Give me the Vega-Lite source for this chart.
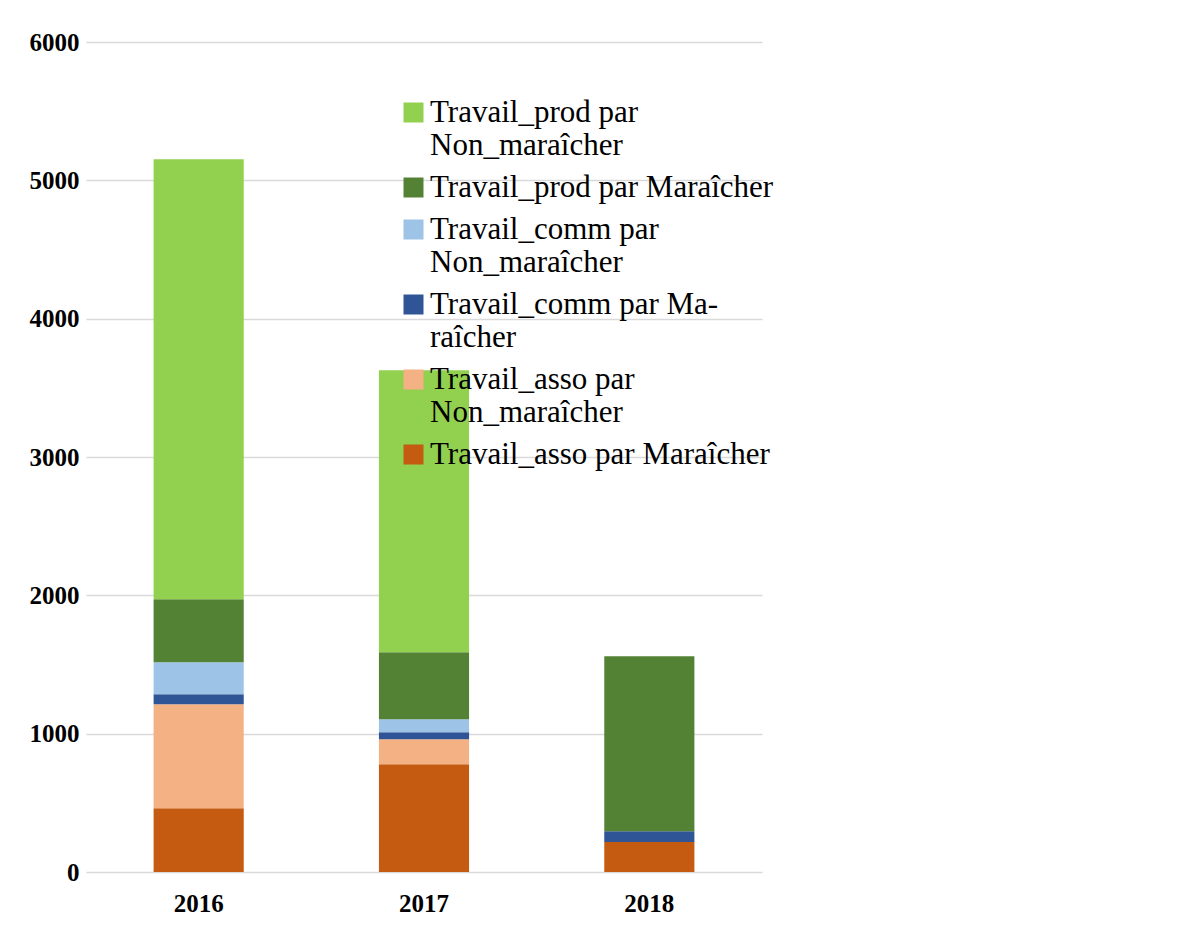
{
  "$schema": "https://vega.github.io/schema/vega-lite/v6.json",
  "width": 676,
  "height": 830,
  "autosize": "none",
  "padding": {"left": 86, "top": 42, "right": 424, "bottom": 58},
  "background": "white",
  "config": {
    "view": {"stroke": null},
    "font": "Liberation Serif"
  },
  "data": {
    "values": [
      {"annee": "2016", "serie": "Travail_asso par Maraîcher", "ordre": 1, "valeur": 460},
      {"annee": "2016", "serie": "Travail_asso par Non_maraîcher", "ordre": 2, "valeur": 753},
      {"annee": "2016", "serie": "Travail_comm par Maraîcher", "ordre": 3, "valeur": 72},
      {"annee": "2016", "serie": "Travail_comm par Non_maraîcher", "ordre": 4, "valeur": 231},
      {"annee": "2016", "serie": "Travail_prod par Maraîcher", "ordre": 5, "valeur": 456},
      {"annee": "2016", "serie": "Travail_prod par Non_maraîcher", "ordre": 6, "valeur": 3181},
      {"annee": "2017", "serie": "Travail_asso par Maraîcher", "ordre": 1, "valeur": 779},
      {"annee": "2017", "serie": "Travail_asso par Non_maraîcher", "ordre": 2, "valeur": 181},
      {"annee": "2017", "serie": "Travail_comm par Maraîcher", "ordre": 3, "valeur": 50},
      {"annee": "2017", "serie": "Travail_comm par Non_maraîcher", "ordre": 4, "valeur": 94},
      {"annee": "2017", "serie": "Travail_prod par Maraîcher", "ordre": 5, "valeur": 485},
      {"annee": "2017", "serie": "Travail_prod par Non_maraîcher", "ordre": 6, "valeur": 2039},
      {"annee": "2018", "serie": "Travail_asso par Maraîcher", "ordre": 1, "valeur": 216},
      {"annee": "2018", "serie": "Travail_asso par Non_maraîcher", "ordre": 2, "valeur": 0},
      {"annee": "2018", "serie": "Travail_comm par Maraîcher", "ordre": 3, "valeur": 78},
      {"annee": "2018", "serie": "Travail_comm par Non_maraîcher", "ordre": 4, "valeur": 0},
      {"annee": "2018", "serie": "Travail_prod par Maraîcher", "ordre": 5, "valeur": 1266},
      {"annee": "2018", "serie": "Travail_prod par Non_maraîcher", "ordre": 6, "valeur": 0}
    ]
  },
  "mark": {"type": "bar"},
  "encoding": {
    "x": {
      "field": "annee",
      "type": "nominal",
      "scale": {"paddingInner": 0.6, "paddingOuter": 0.3},
      "axis": {
        "title": null,
        "labelAngle": 0,
        "labelFontWeight": "bold",
        "labelFontSize": 25,
        "labelColor": "#000000",
        "labelPadding": 19,
        "ticks": false,
        "domain": false
      }
    },
    "y": {
      "field": "valeur",
      "type": "quantitative",
      "stack": "zero",
      "scale": {"domain": [0, 6000], "nice": false},
      "axis": {
        "title": null,
        "values": [0, 1000, 2000, 3000, 4000, 5000, 6000],
        "format": "d",
        "labelFontWeight": "bold",
        "labelFontSize": 25,
        "labelColor": "#000000",
        "labelPadding": 7,
        "ticks": false,
        "domain": false,
        "gridColor": "#D9D9D9",
        "gridWidth": 1.5
      }
    },
    "color": {
      "field": "serie",
      "type": "nominal",
      "scale": {
        "domain": [
          "Travail_prod par Non_maraîcher",
          "Travail_prod par Maraîcher",
          "Travail_comm par Non_maraîcher",
          "Travail_comm par Maraîcher",
          "Travail_asso par Non_maraîcher",
          "Travail_asso par Maraîcher"
        ],
        "range": ["#92D050", "#548235", "#9DC3E6", "#2F5597", "#F4B183", "#C55A11"]
      },
      "legend": {
        "title": null,
        "orient": "none",
        "legendX": 312,
        "legendY": 55,
        "symbolType": "square",
        "symbolSize": 400,
        "symbolStrokeWidth": 0,
        "labelFontSize": 31,
        "labelColor": "#000000",
        "labelLimit": 600,
        "labelOffset": 1,
        "labelBaseline": "middle",
        "labelLineHeight": 33,
        "rowPadding": 10,
        "labelExpr": "datum.label == 'Travail_prod par Non_maraîcher' ? ['Travail_prod par', 'Non_maraîcher'] : datum.label == 'Travail_comm par Non_maraîcher' ? ['Travail_comm par', 'Non_maraîcher'] : datum.label == 'Travail_comm par Maraîcher' ? ['Travail_comm par Ma-', 'raîcher'] : datum.label == 'Travail_asso par Non_maraîcher' ? ['Travail_asso par', 'Non_maraîcher'] : datum.label"
      }
    },
    "order": {"field": "ordre", "type": "quantitative", "sort": "ascending"}
  }
}
